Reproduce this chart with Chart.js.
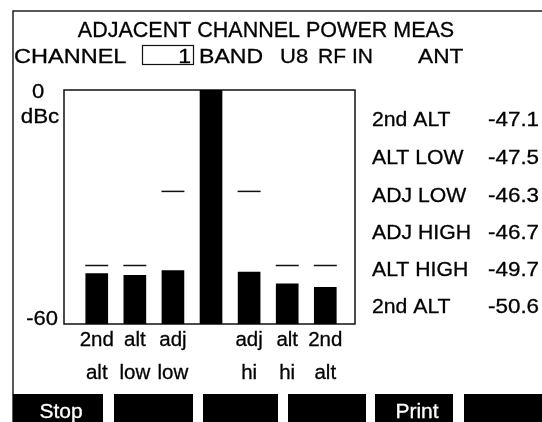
<!DOCTYPE html>
<html>
<head>
<meta charset="utf-8">
<title>Adjacent Channel Power</title>
<script src="https://cdn.jsdelivr.net/npm/chart.js@4.4.1/dist/chart.umd.min.js"></script>
<style>
  html, body { margin: 0; padding: 0; background: #fff; }
  canvas { display: block; }
</style>
</head>
<body>
<canvas id="acpChart" width="542" height="422" style="width:542px;height:422px"></canvas>
<script>
  // Offset channels (slot 3 is the carrier itself)
  const chanPos = [0, 1, 2, 4, 5, 6];
  const chanNames = ["2nd ALT", "ALT LOW", "ADJ LOW", "ADJ HIGH", "ALT HIGH", "2nd ALT"];
  const chanDbc = [-47.1, -47.5, -46.3, -46.7, -49.7, -50.6];
  const carrierPos = 3;
  const carrierDbc = 0;

  // Limit marks drawn above each offset channel
  const limitDbc = [-45, -45, -26, -26, -45, -45];

  // Labels under the bars
  const tickLabels = [["2nd", "alt"], ["alt", "low"], ["adj", "low"], ["adj", "hi"], ["alt", "hi"], ["2nd", "alt"]];

  const yMax = 0;
  const yMin = -60;
  const softKeys = ["Stop", "", "", "", "Print", ""];

  const FONT = '"Liberation Sans", Arial, Helvetica, sans-serif';
  const INK = 0.3; // extra stroke so the text reads a bit heavier

  // bars run from the floor up to the measured level
  const barPos = chanPos.slice(0, 3).concat([carrierPos], chanPos.slice(3));
  const barDbc = chanDbc.slice(0, 3).concat([carrierDbc], chanDbc.slice(3));

  // Draw text with a little horizontal stretch (the screen font is wide)
  function drawText(ctx, str, x, y, size, align, stretch, color) {
    ctx.save();
    ctx.font = size + "px " + FONT;
    ctx.textBaseline = "alphabetic";
    ctx.textAlign = "left";
    ctx.fillStyle = color || "#000";
    ctx.strokeStyle = color || "#000";
    ctx.lineWidth = INK;
    const w = ctx.measureText(str).width * stretch;
    let left = x;
    if (align === "center") left = x - w / 2;
    else if (align === "right") left = x - w;
    ctx.translate(left, y);
    ctx.scale(stretch, 1);
    ctx.fillText(str, 0, 0);
    ctx.strokeText(str, 0, 0);
    ctx.restore();
  }

  const screenPlugin = {
    id: "screen",
    beforeDatasetsDraw(chart) {
      const ctx = chart.ctx;
      const a = chart.chartArea;
      ctx.save();
      ctx.strokeStyle = "#111";
      ctx.lineWidth = 1.5;
      ctx.strokeRect(a.left, a.top, a.right - a.left, a.bottom - a.top);
      ctx.restore();
    },
    afterDraw(chart) {
      const ctx = chart.ctx;
      const yScale = chart.scales.y;

      // outer screen border
      ctx.save();
      ctx.strokeStyle = "#222";
      ctx.lineWidth = 1.5;
      ctx.beginPath();
      ctx.moveTo(13, 422);
      ctx.lineTo(13, 11);
      ctx.lineTo(542, 11);
      ctx.stroke();
      ctx.restore();

      // header
      drawText(ctx, "ADJACENT CHANNEL POWER MEAS", 266, 37, 21.5, "center", 1.0);
      const words = [["CHANNEL", 14, 1.12], ["BAND", 199, 1.1], ["U8", 280, 1.05], ["RF", 318, 1.0], ["IN", 352, 1.0], ["ANT", 418, 1.08]];
      words.forEach(w => drawText(ctx, w[0], w[1], 63, 21, "left", w[2]));
      ctx.save();
      ctx.strokeStyle = "#111";
      ctx.lineWidth = 1.2;
      ctx.strokeRect(142.5, 45.5, 51, 19);
      ctx.restore();
      drawText(ctx, "1", 191, 63, 21, "right", 1.1);

      // y axis end labels
      const yTopPx = yScale.getPixelForValue(yMax);
      const yBotPx = yScale.getPixelForValue(yMin);
      drawText(ctx, String(yMax), 38, yTopPx + 8, 20, "center", 1.1);
      drawText(ctx, "dBc", 40, yTopPx + 33, 20, "center", 1.12);
      drawText(ctx, String(yMin), 58, yBotPx + 1, 20, "right", 1.1);

      // readout table
      const rows = [126, 164, 201.5, 238.5, 276, 313];
      chanNames.forEach((n, i) => {
        drawText(ctx, n, 372, rows[i], 20, "left", 1.06);
        drawText(ctx, chanDbc[i].toFixed(1), 488, rows[i], 20, "left", 1.12);
      });

      // soft keys
      const keys = [[13, 103], [114, 193], [203, 278], [288, 366], [375, 453], [464, 542]];
      ctx.save();
      ctx.fillStyle = "#000";
      keys.forEach(k => ctx.fillRect(k[0], 394, k[1] - k[0], 28));
      ctx.restore();
      softKeys.forEach((s, i) => {
        if (s) drawText(ctx, s, (keys[i][0] + keys[i][1]) / 2 + 3, 418, 20, "center", 1.05, "#fff");
      });
    }
  };

  const ctx = document.getElementById("acpChart").getContext("2d");
  new Chart(ctx, {
    type: "bar",
    data: {
      datasets: [
        {
          type: "line",
          data: chanPos.map((p, i) => ({ x: p, y: limitDbc[i] })),
          showLine: false,
          pointStyle: "line",
          pointRadius: 11.5,
          pointHoverRadius: 11.5,
          pointBorderWidth: 1.5,
          borderColor: "#111",
          backgroundColor: "#111"
        },
        {
          type: "bar",
          data: barPos.map((p, i) => ({ x: p, y: [yMin, barDbc[i]] })),
          backgroundColor: "#000",
          borderWidth: 0,
          barThickness: 22
        }
      ]
    },
    options: {
      responsive: false,
      animation: false,
      events: [],
      layout: { padding: { left: 64, right: 187, top: 90, bottom: 38 } },
      plugins: {
        legend: { display: false },
        tooltip: { enabled: false }
      },
      scales: {
        x: {
          type: "linear",
          min: -0.86,
          max: 6.78,
          offset: false,
          grid: { display: false, drawTicks: false },
          border: { display: false },
          afterBuildTicks: scale => {
            scale.ticks = chanPos.map(v => ({ value: v }));
          },
          afterFit: scale => {
            scale.height = 60;
          },
          ticks: {
            autoSkip: false,
            maxRotation: 0,
            padding: 0,
            color: "#000",
            textStrokeColor: "#000",
            textStrokeWidth: INK,
            font: { family: FONT, size: 20.5, lineHeight: 1.62 },
            callback: v => tickLabels[chanPos.indexOf(v)]
          }
        },
        y: {
          display: false,
          min: yMin,
          max: yMax
        }
      }
    },
    plugins: [screenPlugin]
  });
</script>
</body>
</html>
